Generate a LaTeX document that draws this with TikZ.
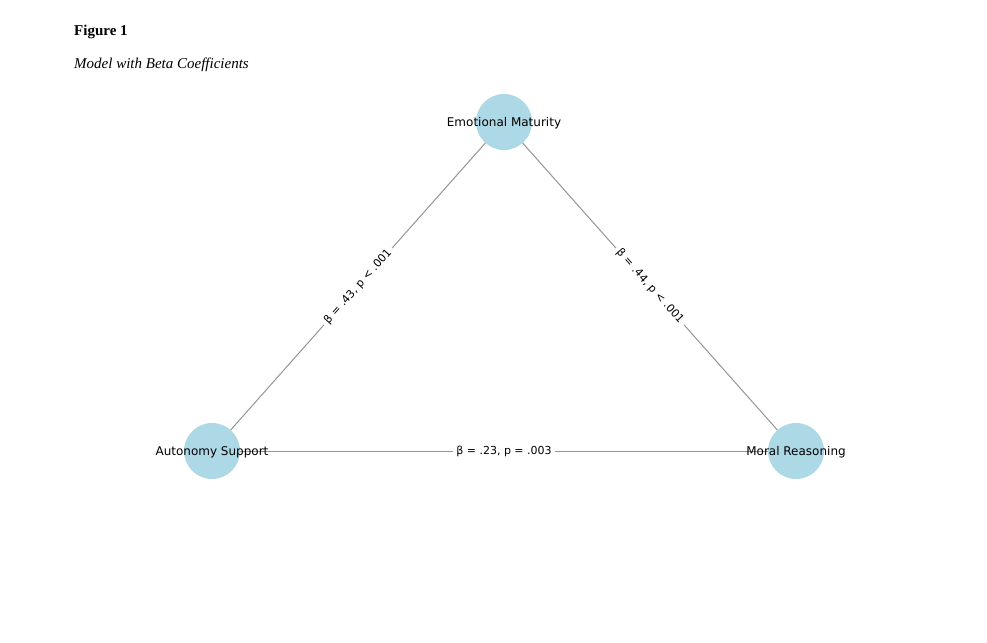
\documentclass[tikz,border=0pt]{standalone}
\usepackage{fontspec}
\setmainfont{Liberation Serif}
\newfontfamily\lblfont{DejaVu Sans}
\definecolor{nodeblue}{HTML}{ADD8E6}
\definecolor{edgegray}{HTML}{959595}
\begin{document}
\begin{tikzpicture}[x=1pt,y=-1pt,
  vnode/.style={circle,fill=nodeblue,minimum size=56pt,inner sep=0pt},
  vlabel/.style={font=\lblfont\fontsize{12}{14}\selectfont,text=black},
  edge/.style={draw=edgegray,line width=1pt},
  elabel/.style={fill=white,inner sep=3.5pt,font=\lblfont\fontsize{11}{13}\selectfont,text=black}]
\useasboundingbox (0,0) rectangle (987,642);
\fill[white] (0,0) rectangle (987,642);
\node[anchor=base west,inner sep=0pt,font=\fontsize{15}{17}\selectfont\bfseries] (fig) at (74,36) {Figure 1};
\node[anchor=base west,inner sep=0pt,font=\fontsize{15}{17}\selectfont\itshape] (cap) at (74,69) {Model with Beta Coefficients};
\coordinate (em) at (504,122);
\coordinate (as) at (212,451);
\coordinate (mr) at (796,451);
\draw[edge] (as) -- node[elabel,sloped] {β = .43, p < .001} (em);
\draw[edge] (em) -- node[elabel,sloped] {β = .44, p < .001} (mr);
\draw[edge] (as) -- node[elabel,yshift=-0.8pt] {β = .23, p = .003} (mr);
\node[vnode] (emc) at (em) {};
\node[vnode] (asc) at (as) {};
\node[vnode] (mrc) at (mr) {};
\node[vlabel] (emt) at ([yshift=-1.2pt]em) {Emotional Maturity};
\node[vlabel] (ast) at ([yshift=-1.2pt]as) {Autonomy Support};
\node[vlabel] (mrt) at ([yshift=-1.2pt]mr) {Moral Reasoning};
\end{tikzpicture}
\end{document}
